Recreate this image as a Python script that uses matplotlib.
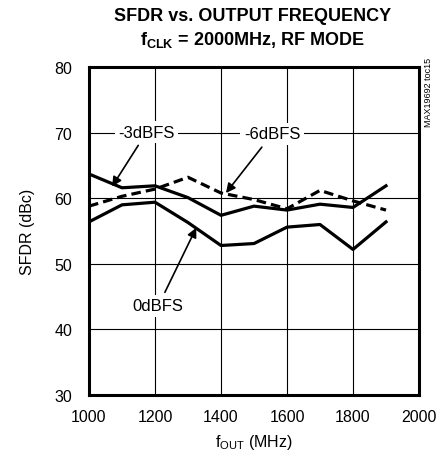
import matplotlib.pyplot as plt
from matplotlib import font_manager

# condensed look, fall back to DejaVu if the narrow face is missing
names = {f.name for f in font_manager.fontManager.ttflist}
narrow = 'Liberation Sans Narrow' if 'Liberation Sans Narrow' in names else 'Liberation Sans'
plt.rcParams['font.family'] = [narrow, 'DejaVu Sans']

freq = [1000, 1100, 1200, 1300, 1400, 1500, 1600, 1700, 1800, 1900]
sfdr_0dbfs = [56.4, 59.0, 59.4, 56.3, 52.8, 53.1, 55.6, 56.0, 52.2, 56.4]
sfdr_3dbfs = [63.7, 61.6, 61.9, 60.1, 57.4, 58.8, 58.2, 59.1, 58.6, 61.9]
sfdr_6dbfs = [58.8, 60.3, 61.4, 63.2, 60.8, 59.8, 58.4, 61.2, 59.6, 58.2]

xticks = [1000, 1200, 1400, 1600, 1800, 2000]
yticks = [30, 40, 50, 60, 70, 80]

fig = plt.figure(figsize=(4.45, 4.6), dpi=100)
ax = fig.add_axes([0.2, 0.139, 0.7416, 0.713])

ax.plot(freq, sfdr_3dbfs, color='black', lw=2.3)
ax.plot(freq, sfdr_6dbfs, color='black', lw=2.3, ls=(0, (3, 1.6)))
ax.plot(freq, sfdr_0dbfs, color='black', lw=2.3)

ax.set_xlim(1000, 2000)
ax.set_ylim(30, 80)
ax.set_xticks(xticks)
ax.set_yticks(yticks)
ax.grid(True, color='black', lw=0.8)
ax.tick_params(axis='y', length=0, labelsize=11.5, pad=12)
ax.tick_params(axis='x', length=0, labelsize=11.5, pad=10)
for s in ax.spines.values():
    s.set_linewidth(2.2)

ax.set_ylabel('SFDR (dBc)', fontsize=11.5, labelpad=14)
ax.set_xlabel(r'f$_{\mathregular{OUT}}$ (MHz)', fontsize=11.5, labelpad=6)

box = dict(facecolor='white', edgecolor='none', pad=2.5)
arw = dict(arrowstyle='-|>', color='black', lw=1.2, mutation_scale=14, shrinkA=2, shrinkB=0)
ax.annotate('-3dBFS', xy=(1070, 61.8), xytext=(1175, 70.1), fontsize=12,
            ha='center', va='center', bbox=box, arrowprops=arw)
ax.annotate('-6dBFS', xy=(1415, 60.8), xytext=(1555, 69.8), fontsize=12,
            ha='center', va='center', bbox=box, arrowprops=arw)
ax.annotate('0dBFS', xy=(1325, 55.5), xytext=(1210, 43.6), fontsize=12,
            ha='center', va='center', bbox=box, arrowprops=arw)

fig.text(0.567, 0.965, 'SFDR vs. OUTPUT FREQUENCY', ha='center', va='center',
         fontsize=13, fontweight='bold')
fig.text(0.567, 0.912, r'f$_{\mathregular{CLK}}$ = 2000MHz, RF MODE', ha='center',
         va='center', fontsize=13, fontweight='bold')
fig.text(0.962, 0.80, 'MAX19692 toc15', rotation=90, ha='center', va='center',
         fontsize=6.5)

fig.savefig('out.png', dpi=100)
